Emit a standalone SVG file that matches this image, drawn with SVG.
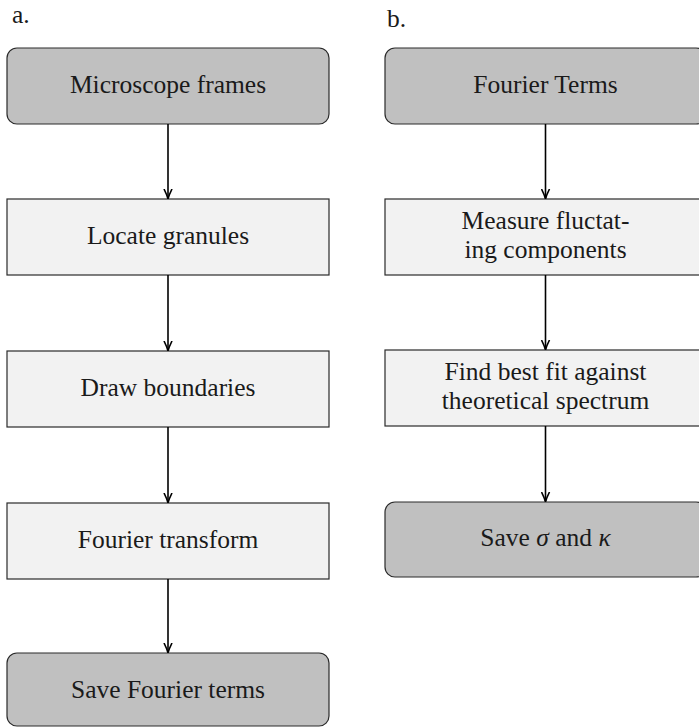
<svg xmlns="http://www.w3.org/2000/svg" width="699" height="727" viewBox="0 0 699 727">
<style>
.t{font-family:"Liberation Serif","DejaVu Serif",serif;font-size:25.5px;fill:#1a1a1a;text-anchor:middle}
.lab{font-family:"Liberation Serif","DejaVu Serif",serif;font-size:25.5px;fill:#1a1a1a}
.dark{fill:#c0c0c0;stroke:#2a2a2a;stroke-width:1.2}
.light{fill:#f2f2f2;stroke:#2a2a2a;stroke-width:1.2}
.c{stroke:#000;stroke-width:1.6;fill:none;marker-end:url(#ah)}
</style>
<defs>
<marker id="ah" viewBox="0 0 10 10" refX="9" refY="5" markerWidth="10" markerHeight="10" markerUnits="userSpaceOnUse" orient="auto">
<path d="M0,1 Q6,4 10,5 Q6,6 0,9" fill="none" stroke="#000" stroke-width="1.6"/>
</marker>
</defs>
<text class="lab" x="12" y="23">a.</text>
<text class="lab" x="387" y="27">b.</text>
<g id="a1"><rect class="dark" x="7" y="48" width="322" height="76" rx="10"/><text class="t" x="168" y="92.5">Microscope frames</text></g>
<g id="a2"><rect class="light" x="7" y="199" width="322" height="76"/><text class="t" x="168" y="243.5">Locate granules</text></g>
<g id="a3"><rect class="light" x="7" y="351" width="322" height="76"/><text class="t" x="168" y="395.5">Draw boundaries</text></g>
<g id="a4"><rect class="light" x="7" y="503" width="322" height="76"/><text class="t" x="168" y="547.5">Fourier transform</text></g>
<g id="a5"><rect class="dark" x="7" y="653" width="322" height="73" rx="10"/><text class="t" x="168" y="697.5">Save Fourier terms</text></g>
<g id="b1"><rect class="dark" x="385" y="48" width="321" height="76" rx="10"/><text class="t" x="545.5" y="92.5">Fourier Terms</text></g>
<g id="b2"><rect class="light" x="385" y="199" width="321" height="76"/><text class="t" x="545.5" y="228.8">Measure fluctat-</text><text class="t" x="545.5" y="257.8">ing components</text></g>
<g id="b3"><rect class="light" x="385" y="350" width="321" height="76"/><text class="t" x="545.5" y="379.8">Find best fit against</text><text class="t" x="545.5" y="408.8">theoretical spectrum</text></g>
<g id="b4"><rect class="dark" x="385" y="502" width="321" height="75" rx="10"/><text class="t" x="545.5" y="546">Save <tspan font-style="italic">σ</tspan> and <tspan font-style="italic">κ</tspan></text></g>
<g id="connectors">
<line class="c" x1="168" y1="124" x2="168" y2="198"/>
<line class="c" x1="168" y1="275" x2="168" y2="350"/>
<line class="c" x1="168" y1="427" x2="168" y2="502"/>
<line class="c" x1="168" y1="579" x2="168" y2="652"/>
<line class="c" x1="545.5" y1="124" x2="545.5" y2="198"/>
<line class="c" x1="545.5" y1="275" x2="545.5" y2="349"/>
<line class="c" x1="545.5" y1="426" x2="545.5" y2="501"/>
</g>
</svg>
